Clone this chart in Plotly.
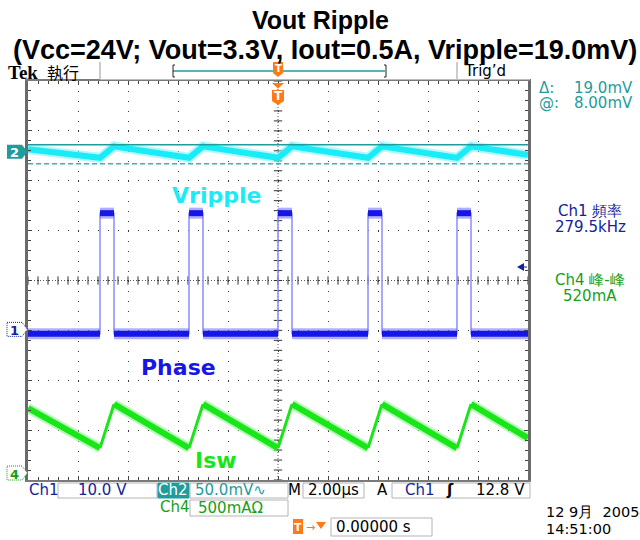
import plotly.graph_objects as go
import numpy as np

# ---------------- data ----------------
# time in microseconds (2 us/div, 10 div), vertical in graticule divisions
t_rise = [-7.12, -3.56, 0.00, 3.60, 7.16]      # Ch1 (Phase) rising edges
t_fall = [-6.56, -3.00, 0.56, 4.16, 7.72]      # Ch1 (Phase) falling edges
phase_low = -1.07
phase_high = 1.35

vr_t = [-10.0, -7.12, -6.56, -3.56, -3.00, 0.00, 0.56, 3.60, 4.16, 7.16, 7.72, 10.0]
vr_div = [2.63, 2.46, 2.69, 2.46, 2.69, 2.46, 2.69, 2.46, 2.69, 2.46, 2.69, 2.52]

isw_t = [-10.0, -7.12, -6.56, -3.56, -3.00, 0.00, 0.56, 3.60, 4.16, 7.16, 7.72, 10.0]
isw_div = [-2.56, -3.36, -2.48, -3.36, -2.48, -3.36, -2.48, -3.36, -2.48, -3.36, -2.48, -3.16]

cursor_a = 2.72
cursor_b = 2.34
gnd_ch1 = -0.98
gnd_ch2 = 2.58
gnd_ch4 = -3.86
trig_level = 0.27

title_1 = "Vout Ripple"
title_2 = "(Vcc=24V; Vout=3.3V, Iout=0.5A, Vripple=19.0mV)"
label_names = ["Vripple", "Phase", "Isw"]
label_t = [-2.48, -4.0, -2.48]
label_div = [1.70, -1.74, -3.60]

# ---------------- colours ----------------
CYAN = "#19ecf7"
CYAN_HALO = "rgba(120,240,250,0.55)"
BLUE = "#1616e6"
BLUE_HALO = "rgba(110,110,255,0.55)"
BLUE_EDGE = "#8c8cff"
GREEN = "#19e619"
GREEN_HALO = "rgba(130,240,130,0.55)"
NAVY = "#14239a"
TEAL = "#1f9c9c"
DGREEN = "#17a017"
ORANGE = "#ff7a14"

# plot area in pixels
L, T, W, H = 28, 81, 500, 399


def X(px):
    return (px - L) / W


def Y(py):
    return (T + H - py) / H


def D(d):
    return (d + 4) / 8


fig = go.Figure()

# graticule centre-line tick marks
xt = np.arange(-10, 10.001, 0.4)
yt = np.arange(-4, 4.001, 0.2)
fig.add_trace(go.Scatter(x=xt, y=[0] * len(xt), mode="markers", hoverinfo="skip",
                         marker=dict(symbol="line-ns", size=6, line=dict(width=1, color="#333"))))
fig.add_trace(go.Scatter(x=[0] * len(yt), y=yt, mode="markers", hoverinfo="skip",
                         marker=dict(symbol="line-ew", size=6, line=dict(width=1, color="#333"))))

# ---- Isw (Ch4) ----
fall_x, fall_y, rise_x, rise_y = [], [], [], []
for i in range(len(isw_t) - 1):
    seg_x = [isw_t[i], isw_t[i + 1], None]
    seg_y = [isw_div[i], isw_div[i + 1], None]
    if isw_div[i + 1] > isw_div[i]:
        rise_x += seg_x; rise_y += seg_y
    else:
        fall_x += seg_x; fall_y += seg_y
fig.add_trace(go.Scatter(x=fall_x, y=fall_y, mode="lines", line=dict(color=GREEN_HALO, width=10), hoverinfo="skip"))
fig.add_trace(go.Scatter(x=fall_x, y=fall_y, mode="lines", line=dict(color=GREEN, width=6), hoverinfo="skip"))
fig.add_trace(go.Scatter(x=rise_x, y=rise_y, mode="lines", line=dict(color=GREEN, width=3), hoverinfo="skip"))

# ---- Phase (Ch1) ----
ph_x, ph_y = [-10.0], [phase_low]
for r, f in zip(t_rise, t_fall):
    ph_x += [r, r, f, f]
    ph_y += [phase_low, phase_high, phase_high, phase_low]
ph_x.append(10.0); ph_y.append(phase_low)
band_x, band_y = [], []
starts = [-10.0] + t_fall
ends = t_rise + [10.0]
for s, e in zip(starts, ends):
    band_x += [s, e, None]; band_y += [phase_low, phase_low, None]
for r, f in zip(t_rise, t_fall):
    band_x += [r, f, None]; band_y += [phase_high, phase_high, None]
fig.add_trace(go.Scatter(x=ph_x, y=ph_y, mode="lines", line=dict(color=BLUE_EDGE, width=1.5), hoverinfo="skip"))
fig.add_trace(go.Scatter(x=band_x, y=band_y, mode="lines", line=dict(color=BLUE_HALO, width=11), hoverinfo="skip"))
fig.add_trace(go.Scatter(x=band_x, y=band_y, mode="lines", line=dict(color=BLUE, width=6), hoverinfo="skip"))

# ---- Vripple (Ch2) ----
fig.add_trace(go.Scatter(x=vr_t, y=vr_div, mode="lines", line=dict(color=CYAN_HALO, width=10), hoverinfo="skip"))
fig.add_trace(go.Scatter(x=vr_t, y=vr_div, mode="lines", line=dict(color=CYAN, width=6), hoverinfo="skip"))

shapes = []
# centre dotted lines
shapes.append(dict(type="line", xref="x", yref="y", x0=-10, x1=10, y0=0, y1=0, layer="between",
                   line=dict(color="#555", width=1, dash="1px,2px")))
shapes.append(dict(type="line", xref="x", yref="y", x0=0, x1=0, y0=-4, y1=4, layer="between",
                   line=dict(color="#555", width=1, dash="1px,2px")))
# cursors
shapes.append(dict(type="line", xref="x", yref="y", x0=-10, x1=10, y0=cursor_a, y1=cursor_a,
                   line=dict(color=TEAL, width=1.5)))
shapes.append(dict(type="line", xref="x", yref="y", x0=-10, x1=10, y0=cursor_b, y1=cursor_b,
                   line=dict(color="#3cb4b4", width=1.5, dash="5px,3px")))


def marker_path(yc):
    h = 7 / H
    return (f"M {X(7)} {D(yc)+h} L {X(22)} {D(yc)+h} L {X(27.5)} {D(yc)} "
            f"L {X(22)} {D(yc)-h} L {X(7)} {D(yc)-h} Z")


shapes.append(dict(type="path", xref="paper", yref="paper", path=marker_path(gnd_ch2),
                   fillcolor=TEAL, line=dict(width=0)))
shapes.append(dict(type="path", xref="paper", yref="paper", path=marker_path(gnd_ch1),
                   fillcolor="white", line=dict(color=NAVY, width=1, dash="1px,1px")))
shapes.append(dict(type="path", xref="paper", yref="paper", path=marker_path(gnd_ch4),
                   fillcolor="white", line=dict(color=DGREEN, width=1, dash="1px,1px")))
# trigger level arrow
shapes.append(dict(type="path", xref="paper", yref="paper",
                   path=f"M {X(517)} {D(trig_level)} L {X(524)} {D(trig_level)+4/H} L {X(524)} {D(trig_level)-4/H} Z",
                   fillcolor=NAVY, line=dict(width=0)))
shapes.append(dict(type="line", xref="paper", yref="paper", x0=X(523), x1=X(527), y0=D(trig_level), y1=D(trig_level),
                   line=dict(color=NAVY, width=1)))

# top status bar
shapes.append(dict(type="line", xref="paper", yref="paper", x0=X(100), x1=X(100), y0=Y(62), y1=Y(80),
                   line=dict(color="#999", width=1)))
shapes.append(dict(type="line", xref="paper", yref="paper", x0=X(457), x1=X(457), y0=Y(62), y1=Y(80),
                   line=dict(color="#999", width=1)))
shapes.append(dict(type="line", xref="paper", yref="paper", x0=X(100), x1=X(530), y0=Y(79.5), y1=Y(79.5),
                   line=dict(color="#bbb", width=1)))
shapes.append(dict(type="line", xref="paper", yref="paper", x0=X(173), x1=X(385), y0=Y(71), y1=Y(71),
                   line=dict(color=TEAL, width=1.5)))
shapes.append(dict(type="path", xref="paper", yref="paper",
                   path=f"M {X(175)} {Y(65)} L {X(173)} {Y(65)} L {X(173)} {Y(77)} L {X(175)} {Y(77)}",
                   line=dict(color="#222", width=1)))
shapes.append(dict(type="path", xref="paper", yref="paper",
                   path=f"M {X(384)} {Y(65)} L {X(386)} {Y(65)} L {X(386)} {Y(77)} L {X(384)} {Y(77)}",
                   line=dict(color="#222", width=1)))
# orange T markers
shapes.append(dict(type="path", xref="paper", yref="paper",
                   path=f"M {X(273)} {Y(62)} L {X(283)} {Y(62)} L {X(283)} {Y(73)} L {X(278)} {Y(77)} L {X(273)} {Y(73)} Z",
                   fillcolor=ORANGE, line=dict(width=0)))
shapes.append(dict(type="path", xref="paper", yref="paper",
                   path=f"M {X(272)} {Y(83)} L {X(284)} {Y(83)} L {X(278)} {Y(88.5)} Z",
                   fillcolor=ORANGE, line=dict(width=0)))
shapes.append(dict(type="path", xref="paper", yref="paper",
                   path=f"M {X(272)} {Y(90)} L {X(284)} {Y(90)} L {X(284)} {Y(101)} L {X(278)} {Y(105)} L {X(272)} {Y(101)} Z",
                   fillcolor=ORANGE, line=dict(width=0)))
shapes.append(dict(type="path", xref="paper", yref="paper",
                   path=f"M {X(293)} {Y(519)} L {X(303)} {Y(519)} L {X(303)} {Y(534)} L {X(293)} {Y(534)} Z",
                   fillcolor=ORANGE, line=dict(width=0)))
shapes.append(dict(type="path", xref="paper", yref="paper",
                   path=f"M {X(316)} {Y(522)} L {X(326)} {Y(522)} L {X(321)} {Y(529)} Z",
                   fillcolor=ORANGE, line=dict(width=0)))

# bottom boxes
def box(x0, y0, x1, y1, fill="white", col="#b4b4b4"):
    shapes.append(dict(type="rect", xref="paper", yref="paper", x0=X(x0), x1=X(x1), y0=Y(y1), y1=Y(y0),
                       fillcolor=fill, line=dict(color=col, width=1)))


box(58, 483, 157, 498)
box(158, 483, 189, 498, fill=TEAL, col=TEAL)
box(190, 483, 288, 498)
box(190, 500, 288, 516)
box(303, 483, 364, 498)
box(392, 483, 530, 498)
box(331, 518, 432, 536)

annotations = []


def txt(s, px, py, size=15, color="black", family="DejaVu Sans", xanchor="center", bold=False):
    annotations.append(dict(text=f"<b>{s}</b>" if bold else s, x=X(px), y=Y(py), xref="paper", yref="paper",
                            xanchor=xanchor, yanchor="middle", showarrow=False,
                            font=dict(size=size, color=color, family=family)))


txt(title_1, 320, 20, size=25, family="Liberation Sans", bold=True)
txt(title_2, 325, 50, size=27, family="Liberation Sans", bold=True)
txt("Tek", 6, 72, size=19, family="Liberation Serif", xanchor="left", bold=True)
txt("執行", 45, 72, size=16, family="Noto Sans CJK SC", xanchor="left")
txt("Trig’d", 462, 71, size=15, xanchor="left")
txt("T", 278, 68, size=10, color="white", bold=True)
txt("T", 278, 96, size=12, color="white", bold=True)

# channel ground markers text
txt("2", 14, 281 - 50 * gnd_ch2, size=13, color="white", bold=True)
txt("1", 14, 281 - 50 * gnd_ch1, size=13, color=NAVY, bold=True)
txt("4", 14, 281 - 50 * gnd_ch4, size=13, color=DGREEN, bold=True)

# right readouts
txt("Δ:", 537, 88, color=TEAL, xanchor="left")
txt("19.0mV", 635, 88, color=TEAL, xanchor="right")
txt("@:", 537, 103, color=TEAL, xanchor="left")
txt("8.00mV", 635, 103, color=TEAL, xanchor="right")
txt("Ch1 頻率", 590, 211, size=15, color=NAVY)
txt("279.5kHz", 590, 227, size=15, color=NAVY)
txt("Ch4 峰-峰", 590, 280, size=15, color=DGREEN)
txt("520mA", 590, 296, size=15, color=DGREEN)

# bottom readouts
txt("Ch1", 27, 490, color=NAVY, xanchor="left")
txt("10.0 V", 102, 490, color=NAVY)
txt("Ch2", 173, 490, color="white")
txt("50.0mV∿", 230, 490, color=TEAL)
txt("Ch4", 158, 507, color=DGREEN, xanchor="left")
txt("500mAΩ", 230, 508, color=DGREEN)
txt("M", 294, 490, color="black")
txt("2.00µs", 333, 490, color="black")
txt("A", 382, 490, color="black")
txt("Ch1", 403, 490, color=NAVY, xanchor="left")
txt("ʃ", 450, 490, color="black", bold=True)
txt("12.8 V", 527, 490, color="black", xanchor="right")
txt("→", 310, 527, size=11, color=ORANGE)
txt("T", 298, 527, size=11, color="white", bold=True)
txt("0.00000 s", 334, 527, color="black", xanchor="left")
txt("12 9月  2005", 544, 512, size=14.5, color="black", xanchor="left")
txt("14:51:00", 544, 529, size=14.5, color="black", xanchor="left")

# waveform labels
lab_cols = [CYAN, BLUE, GREEN]
for name, lt, ld, c in zip(label_names, label_t, label_div, lab_cols):
    annotations.append(dict(text=f"<b>{name}</b>", x=lt, y=ld, xref="x", yref="y", showarrow=False,
                            xanchor="center", yanchor="middle",
                            font=dict(size=22, color=c, family="DejaVu Sans")))

fig.update_layout(
    width=640, height=540,
    margin=dict(l=L, r=640 - L - W, t=T, b=540 - T - H),
    paper_bgcolor="white", plot_bgcolor="white",
    showlegend=False,
    shapes=shapes, annotations=annotations,
    xaxis=dict(range=[-10, 10], showticklabels=False, zeroline=False,
               showgrid=True, dtick=2, tick0=0, gridcolor="#3a3a3a", gridwidth=1, griddash="1px,9px",
               showline=True, linecolor="#7a7a7a", linewidth=2, mirror="ticks",
               ticks="inside", ticklen=4, tickcolor="#444",
               minor=dict(dtick=0.4, ticks="inside", ticklen=3, tickcolor="#444", showgrid=False)),
    yaxis=dict(range=[-4, 4], showticklabels=False, zeroline=False,
               showgrid=True, dtick=1, tick0=0, gridcolor="#3a3a3a", gridwidth=1, griddash="1px,9px",
               showline=True, linecolor="#6a6a6a", linewidth=3, mirror="ticks",
               ticks="inside", ticklen=4, tickcolor="#444",
               minor=dict(dtick=0.2, ticks="inside", ticklen=3, tickcolor="#444", showgrid=False)),
)

fig.write_html("out.html", config={"displayModeBar": False},
               post_script="document.body.style.margin='0';document.body.style.overflow='hidden';")
